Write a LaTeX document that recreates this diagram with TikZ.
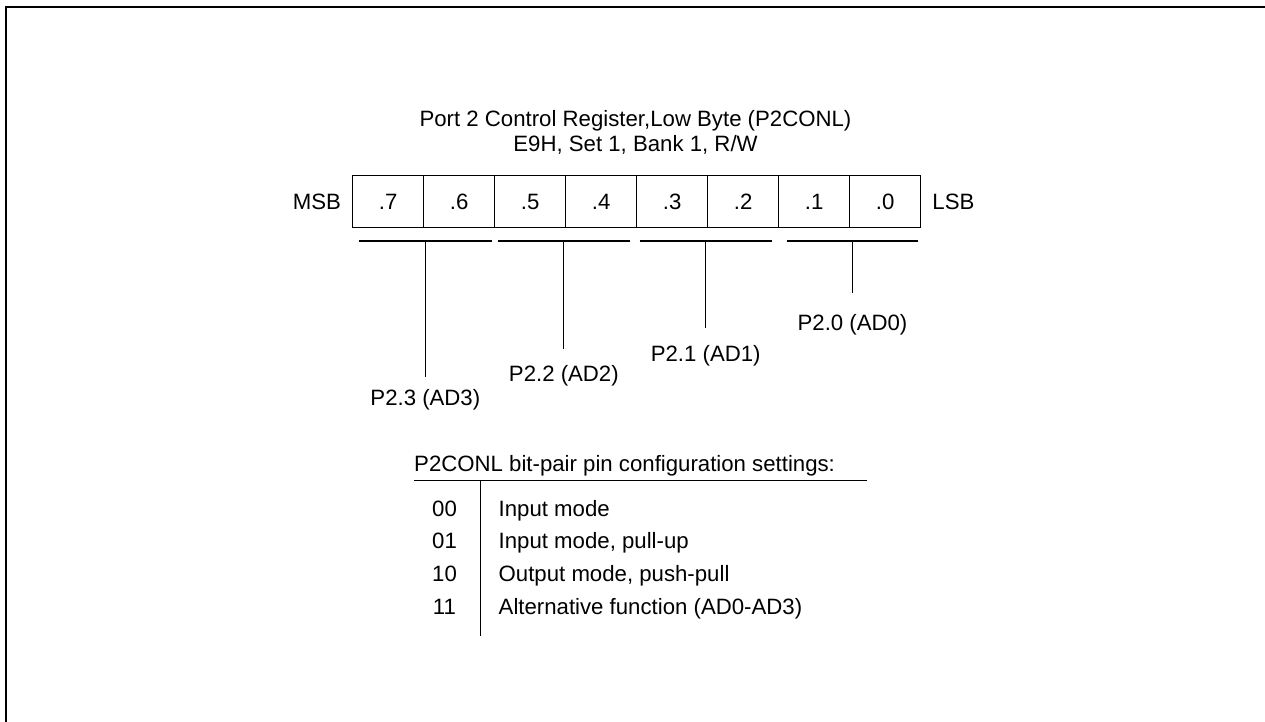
\documentclass[tikz,border=0pt]{standalone}
\usepackage{fontspec}
\setmainfont{Liberation Sans}
\usetikzlibrary{positioning}

\newcommand{\regfont}{\fontsize{22.2}{27}\selectfont}

\tikzset{
  rtext/.style={font=\regfont, inner sep=0},
  bitcell/.style={minimum width=71pt, minimum height=51.3pt,
                  draw=black, inner sep=0, line width=1pt, font=\regfont},
  brace line/.style={line width=1.4pt},
  lead line/.style={line width=0.9pt},
}

\begin{document}
\begin{tikzpicture}[x=1pt, y=-1pt]
        % canvas = 1265 x 722 (one unit = one pixel), y runs downward
        % register box: x 352.7 .. 920.7 (8 cells of 71), y 176 .. 227.3
        % bracket row at y = 241, table rule at y = 480.7
        \useasboundingbox (0,0) rectangle (1265,722);

        % ---- outer frame (top and left edges only) ----
        \draw[line width=1.7pt] (6,722) -- (6,6.7) -- (1265,6.7);

        % ---- title ----
        \node[rtext, anchor=base] (title1) at (635.5,126.5) {Port 2 Control Register,Low Byte (P2CONL)};
        \node[rtext, anchor=base] (title2) at (635.5,151.5) {E9H, Set 1, Bank 1, R/W};

        % ---- register cells, bit 7 on the left ----
        \foreach \b in {7,...,0} {
          \pgfmathsetmacro{\cx}{352.7 + (7-\b)*71 + 35.5}
          \node[bitcell] (c\b) at (\cx, 201.6) {.\b};
        }
        \node[rtext, left=11pt of c7]  (msb) {MSB};
        \node[rtext, right=11pt of c0] (lsb) {LSB};

        % ---- bit-pair brackets, leads and pin names ----
        % pin / bracket left / bracket right / lead end / label baseline
        \foreach \p/\xl/\xr/\yb/\yl in {3/359/491.7/377/405,
                                        2/498/629.7/349/381,
                                        1/639.7/771.7/328/361,
                                        0/787/918/293/330} {
          \pgfmathsetmacro{\xm}{(\xl+\xr)/2}
          \coordinate (bl\p) at (\xl,241);
          \coordinate (br\p) at (\xr,241);
          \coordinate (bm\p) at (\xm,241);
          \coordinate (le\p) at (\xm,\yb);
          \draw[brace line] (bl\p) -- (br\p);
          \draw[lead line] (bm\p) -- (le\p);
          \node[rtext, anchor=base] (pin\p) at (\xm,\yl) {P2.\p{} (AD\p)};
        }

        % ---- pin configuration table ----
        \node[rtext, anchor=base west] (tabtitle) at (414,471.7) {P2CONL bit-pair pin configuration settings:};
        \coordinate (hl) at (414,480.7);
        \coordinate (hr) at (866.7,480.7);
        \coordinate (vt) at (480.5,480.7);
        \coordinate (vb) at (480.5,636.3);
        \draw[line width=1.3pt] (hl) -- (hr);
        \draw[line width=1pt] (vt) -- (vb);
        \foreach \code/\desc [count=\i] in {00/{Input mode},
                                            01/{Input mode, pull-up},
                                            10/{Output mode, push-pull},
                                            11/{Alternative function (AD0-AD3)}} {
          \pgfmathsetmacro{\ry}{516 + (\i-1)*32.7}
          \node[rtext, anchor=base] (code\i) at (444.5,\ry) {\code};
          \node[rtext, anchor=base west] (desc\i) at (498.5,\ry) {\desc};
        }
\end{tikzpicture}
\end{document}
